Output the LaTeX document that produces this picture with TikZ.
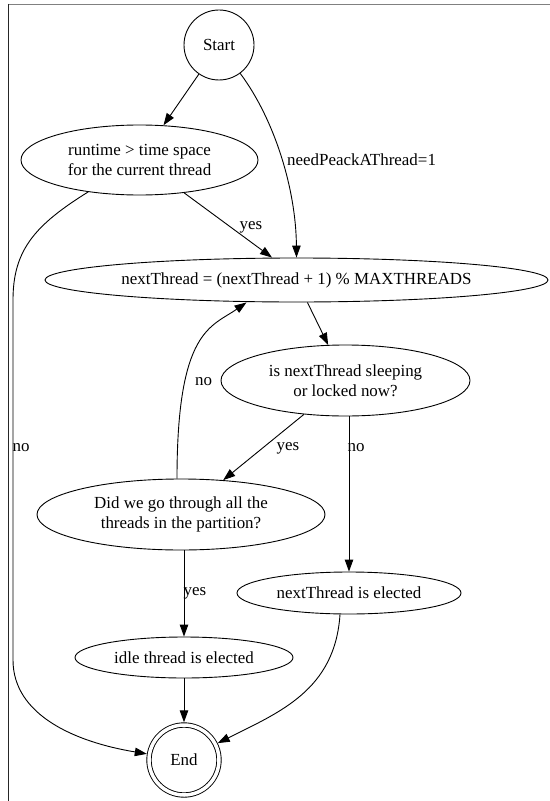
\documentclass[tikz,border=0pt]{standalone}
\usepackage{fontspec}
\setmainfont{Liberation Serif}
\usetikzlibrary{arrows.meta,shapes.geometric}
\begin{document}
\begin{tikzpicture}[x=1bp,y=-1bp,
  every node/.style={font=\fontsize{17}{20}\selectfont, inner sep=0pt},
  oval/.style={draw, ellipse, line width=0.9bp, align=center},
  roundstate/.style={draw, circle, line width=0.9bp},
  edge/.style={draw, line width=0.9bp, -{Triangle[length=12bp,width=8.5bp]}},
  lbl/.style={inner sep=0pt}]
\useasboundingbox (0,0) rectangle (550,801);
\fill[white] (0,0) rectangle (550,801);

% window frame
\draw[gray, line width=1.2bp] (8,4.7) -- (550,4.7);
\draw[black!85, line width=1.3bp] (8.3,4) -- (8.3,801);

% states
\node[roundstate, minimum size=70bp] (start) at (219,45) {Start};
\node[oval, minimum width=237bp, minimum height=70bp] (runtime) at (139.5,160)
  {runtime > time space\\for the current thread};
\node[oval, minimum width=503bp, minimum height=44bp] (next) at (296.5,280)
  {nextThread = (nextThread + 1) \% MAXTHREADS};
\node[oval, minimum width=249bp, minimum height=71bp] (sleep) at (345.5,380.5)
  {is nextThread sleeping\\or locked now?};
\node[oval, minimum width=288bp, minimum height=71bp] (did) at (181,514.5)
  {Did we go through all the\\threads in the partition?};
\node[oval, minimum width=224bp, minimum height=42bp] (elected) at (349,593)
  {nextThread is elected};
\node[oval, minimum width=218bp, minimum height=41bp] (idle) at (184,657.5)
  {idle thread is elected};
\node[roundstate, double, double distance=3.5bp, minimum size=70bp, outer sep=2.7bp]
  (end) at (184,760) {End};

% transitions
\draw[edge] (start) -- (runtime);
\draw[edge] (start) .. controls (275,120) and (296,190) .. (next.north);
\draw[edge] (runtime) -- ([xshift=-24.5bp]next.north);
\draw[edge] (runtime) .. controls (35,225) and (13,250) .. (13,300)
  -- (13,660) .. controls (13,715) and (75,742) .. (end);
\draw[edge] (next) -- (sleep);
\draw[edge] (sleep) -- (did);
\draw[edge] (sleep.south -| elected.north) -- (elected.north);
\draw[edge] ([xshift=-4bp]did.north) .. controls (177,330) and (211,327)
  .. ([xshift=-50bp]next.south);
\draw[edge] (did.south -| idle.north) -- (idle.north);
\draw[edge] (idle) -- (end);
\draw[edge] ([xshift=-9bp]elected.south) .. controls (335,690) and (280,712) .. (end);

% transition labels
\node[lbl, anchor=west] (lneed) at (287,160) {needPeackAThread=1};
\node[lbl] (lyes1) at (251,227) {yes};
\node[lbl, anchor=west] (lno1) at (12.5,448) {no};
\node[lbl] (lno2) at (203.5,382) {no};
\node[lbl] (lyes2) at (288,448) {yes};
\node[lbl, anchor=west] (lno3) at (347.5,448) {no};
\node[lbl, anchor=west] (lyes3) at (183.5,593) {yes};
\end{tikzpicture}
\end{document}
